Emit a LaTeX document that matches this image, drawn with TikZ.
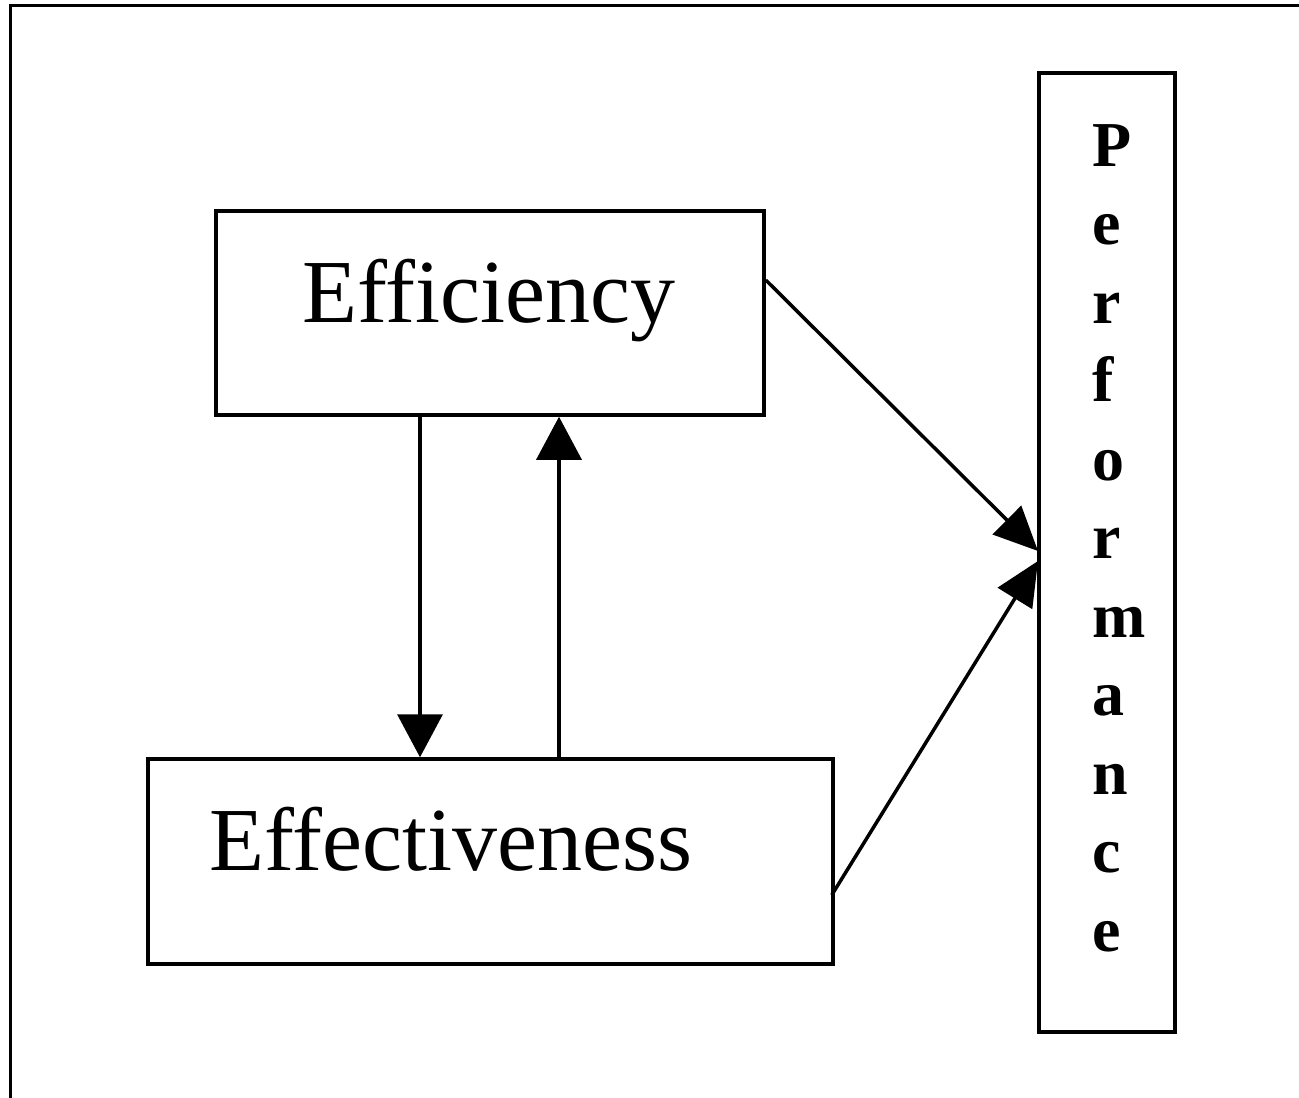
\documentclass[tikz,border=0pt]{standalone}
\usepackage{fontspec}
\setmainfont{Liberation Serif}
\usetikzlibrary{arrows.meta}
\begin{document}
\begin{tikzpicture}[x=1pt,y=-1pt,
  box/.style={draw=black, line width=3.5pt, rectangle, inner sep=0pt},
  bigtext/.style={font=\fontsize{90}{100}\selectfont, inner sep=0pt, anchor=base},
  letter/.style={font=\fontsize{64}{70}\selectfont\bfseries, inner sep=0pt, anchor=base west},
  conn/.style={line width=3.5pt, -{Triangle[length=43pt,width=45pt]}},
  diag/.style={line width=3.5pt, -{Triangle[length=44pt,width=40pt]}}]
\useasboundingbox[fill=white] (0,0) rectangle (1299,1098);
% outer frame (top and left only visible)
\draw[line width=3.5pt] (10.5,1098) -- (10.5,5.5) -- (1299,5.5);
% boxes
\node[box, minimum width=548pt, minimum height=204pt] (eff) at (490,313) {};
\node[box, minimum width=685pt, minimum height=205pt] (efv) at (490.5,861.5) {};
\node[box, minimum width=136pt, minimum height=959pt] (perf) at (1107,552.5) {};
% texts
\node[bigtext] (efftext) at (489,322) {Efficiency};
\node[bigtext] (efvtext) at (451,870) {Effectiveness};
\foreach \ch [count=\i from 0] in {P,e,r,f,o,r,m,a,n,c,e}{
  \node[letter] (l\i) at (1092,{166+78.5*\i}) {\ch};
}
% connectors
\coordinate (xa) at (420,0);
\coordinate (xb) at (559,0);
\coordinate (ya) at (0,280);
\coordinate (yb) at (0,895);
\coordinate (t1) at (1038,551);
\coordinate (t2) at (1038,561);
\draw[conn] (xa |- eff.south) -- (xa |- efv.north);
\draw[conn] (xb |- efv.north) -- (xb |- eff.south);
\draw[diag] (eff.east |- ya) -- (t1);
\draw[diag] ([xshift=-3pt]efv.east |- yb) -- (t2);
\end{tikzpicture}
\end{document}
